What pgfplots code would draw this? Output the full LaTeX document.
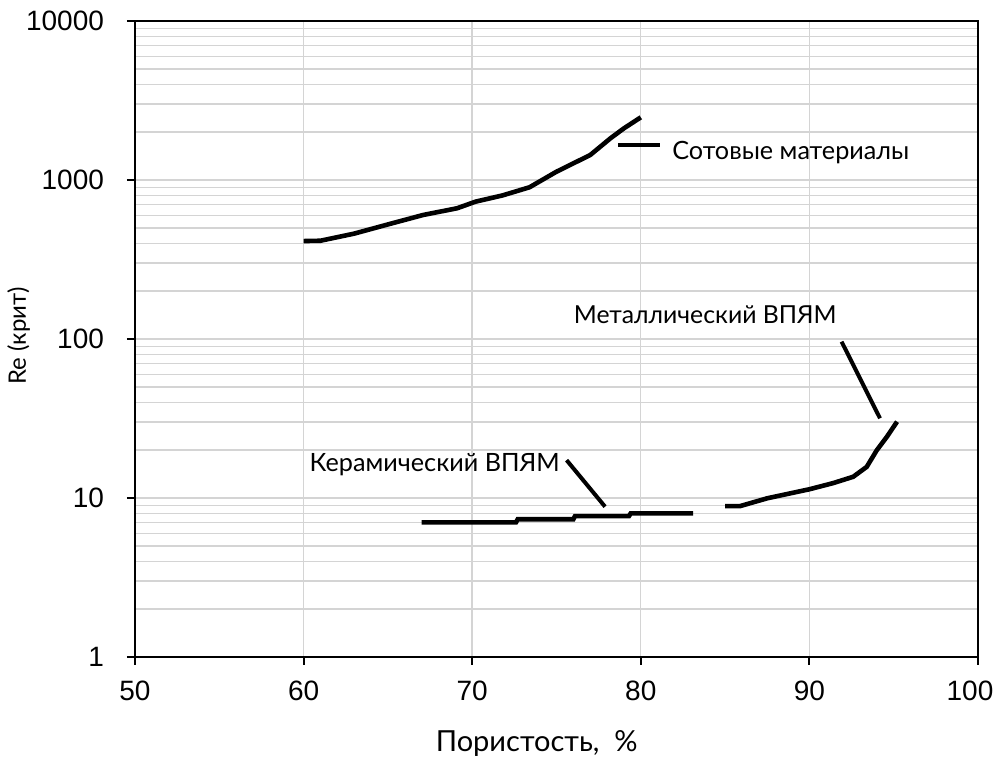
\documentclass[border=0pt]{standalone}
\usepackage{fontspec}
\setmainfont{Liberation Sans}
\newfontfamily\annfont{Lato}
\usepackage{pgfplots}
\pgfplotsset{compat=1.18}
\begin{document}
\begin{tikzpicture}
\useasboundingbox (-67.5pt,-49.5pt) rectangle (431pt,328.5pt);
\begin{axis}[
  scale only axis,
  width=421.5pt, height=318pt,
  ymode=log,
  xmin=50, xmax=100, ymin=1, ymax=10000,
  xtick={50,60,70,80,90,100},
  xticklabels={50,60,70,80,90,\hspace*{-8pt}100},
  ytick={1,10,100,1000,10000},
  yticklabels={1,10,100,1000,10000},
  minor ytick={2,3,4,5,6,7,8,9,20,30,40,50,60,70,80,90,200,300,400,500,600,700,800,900,2000,3000,4000,5000,6000,7000,8000,9000},
  xmajorgrids=true, ymajorgrids=true, yminorgrids=true,
  grid style={color=black!17, line width=0.7pt},
  minor grid style={color=black!17, line width=0.7pt},
  minor tick length=0pt,
  major tick length=4pt,
  tick align=outside,
  xtick pos=bottom, ytick pos=left,
  axis line style={line width=1pt, black},
  tick style={line width=1pt, black},
  /pgf/number format/assume math mode=true,
  ticklabel style={font=\fontsize{14}{16}\selectfont},
  xticklabel style={yshift=-4.5pt},
  yticklabel style={xshift=-8pt},
  xlabel={\annfont\fontsize{14.5}{16}\selectfont Пористость,\ \ \%},
  ylabel={\annfont\fontsize{12}{14}\selectfont Re (крит)},
  xlabel style={at={(axis description cs:0.4765,0)}, anchor=north, yshift=-33pt},
  ylabel style={at={(axis description cs:0,0.505)}, anchor=south, yshift=49pt},
  clip=false,
]
% Сотовые материалы
\addplot[black, line width=2.3pt] coordinates {
(60.0,413) (61.0,415) (63.0,460) (65.1,529) (67.1,603) (69.1,664) (70.2,731)
(71.8,800) (73.4,900) (75.0,1128) (77.0,1436) (78.2,1829) (79.0,2114) (80.0,2478)
};
% Керамический ВПЯМ
\addplot[black, line width=2.3pt] coordinates {
(67.0,7.03) (72.6,7.03) (72.7,7.35) (76.0,7.35) (76.1,7.7) (79.3,7.7) (79.4,8.0) (83.1,8.0)
};
% Металлический ВПЯМ
\addplot[black, line width=2.3pt] coordinates {
(85.0,8.9) (85.9,8.9) (87.5,9.96) (90.0,11.35) (91.4,12.4) (92.6,13.6)
(93.4,15.7) (94.0,20.0) (94.6,24.3) (95.2,30.2)
};
% leader lines
\addplot[black, line width=2pt] coordinates {(78.65,1660) (81.14,1660)};
\addplot[black, line width=2pt] coordinates {(75.6,17.3) (77.88,8.82)};
\addplot[black, line width=2pt] coordinates {(91.91,96.2) (94.19,31.7)};
\node[anchor=west, inner sep=0pt, font=\annfont\fontsize{12.6}{14}\selectfont] at (axis cs:81.85,1479) {Сотовые материалы};
\node[anchor=east, inner sep=0pt, font=\annfont\fontsize{12.4}{14}\selectfont] at (axis cs:91.64,141.6) {Металлический ВПЯМ};
\node[anchor=west, inner sep=0pt, font=\annfont\fontsize{12.6}{14}\selectfont] at (axis cs:60.34,16.1) {Керамический ВПЯМ};
\end{axis}
\end{tikzpicture}
\end{document}
